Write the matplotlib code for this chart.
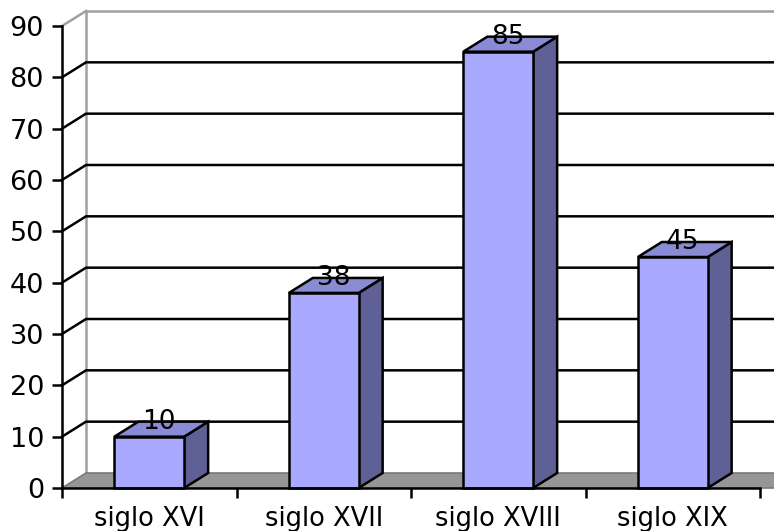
import matplotlib
matplotlib.use("Agg")
import matplotlib.pyplot as plt
from matplotlib.patches import Polygon

categories = ["siglo XVI", "siglo XVII", "siglo XVIII", "siglo XIX"]
values = [10, 38, 85, 45]
yticks = [0, 10, 20, 30, 40, 50, 60, 70, 80, 90]

W, H, DPI = 774, 531, 100
fig = plt.figure(figsize=(W / DPI, H / DPI), dpi=DPI)
fig.patch.set_facecolor("white")

ax_l, ax_b, ax_w, ax_h = 62, 43, 698, 462  # pixels
ax = fig.add_axes([ax_l / W, ax_b / H, ax_w / W, ax_h / H])
n = len(categories)
ax.set_xlim(-0.5, n - 0.5)
ax.set_ylim(0, 90)

# 3D depth offset (pixels -> data units)
DX_PX, DY_PX = 24, 15
dx = DX_PX * n / ax_w
dy = DY_PX * 90 / ax_h

x0, x1 = -0.5, n - 0.5
far = x1 + 1.0  # beyond right figure edge
wall_gray = "#A0A0A0"
lw = 1.8

# back wall edges
ax.plot([x0 + dx, x0 + dx], [dy, 90 + dy], color=wall_gray, lw=lw, clip_on=False, zorder=1)
ax.plot([x0, x0 + dx], [90, 90 + dy], color=wall_gray, lw=lw, clip_on=False, zorder=1)
ax.plot([x0 + dx, far], [90 + dy, 90 + dy], color=wall_gray, lw=lw, clip_on=False, zorder=1)

# gridlines (side wall diagonal + back wall horizontal)
for v in yticks[1:-1]:
    ax.plot([x0, x0 + dx, far], [v, v + dy, v + dy], color="black", lw=lw,
            clip_on=False, zorder=2, solid_joinstyle="miter")

# floor
floor = Polygon([(x0, 0), (far, 0), (far + dx, dy), (x0 + dx, dy)], closed=True,
                facecolor="#969696", edgecolor="#7A7A7A", lw=1.2, clip_on=False, zorder=3)
ax.add_patch(floor)

# bars
bw = 0.40
front_c, top_c, side_c = "#A9AAFF", "#898BD5", "#5F6096"
for i, v in enumerate(values):
    l, r = i - bw / 2, i + bw / 2
    front = Polygon([(l, 0), (r, 0), (r, v), (l, v)], closed=True,
                    facecolor=front_c, edgecolor="black", lw=lw, zorder=5,
                    joinstyle="miter", clip_on=False)
    top = Polygon([(l, v), (r, v), (r + dx, v + dy), (l + dx, v + dy)], closed=True,
                  facecolor=top_c, edgecolor="black", lw=lw, zorder=5,
                  joinstyle="miter", clip_on=False)
    side = Polygon([(r, 0), (r + dx, dy), (r + dx, v + dy), (r, v)], closed=True,
                   facecolor=side_c, edgecolor="black", lw=lw, zorder=5,
                   joinstyle="miter", clip_on=False)
    for p in (side, top, front):
        ax.add_patch(p)
    ax.text(i + dx * 0.4, v + dy, str(v), ha="center", va="center",
            fontsize=19, color="black", zorder=6, family="DejaVu Sans")

# axes
for s in ("top", "right"):
    ax.spines[s].set_visible(False)
for s in ("left", "bottom"):
    ax.spines[s].set_linewidth(lw)
    ax.spines[s].set_color("black")
    ax.spines[s].set_zorder(7)
ax.patch.set_visible(False)

ax.set_yticks(yticks)
ax.set_yticklabels([str(t) for t in yticks])
ax.tick_params(axis="y", direction="out", length=7, width=lw, pad=6,
               labelsize=19.5, colors="black")

ax.set_xticks(range(n))
ax.set_xticklabels(categories)
ax.tick_params(axis="x", which="major", length=0, pad=13, labelsize=18.5)
ax.set_xticks([k - 0.5 for k in range(n + 1)], minor=True)
ax.tick_params(axis="x", which="minor", direction="out", length=7, width=lw)

fig.savefig("out.png", dpi=DPI, facecolor="white")
